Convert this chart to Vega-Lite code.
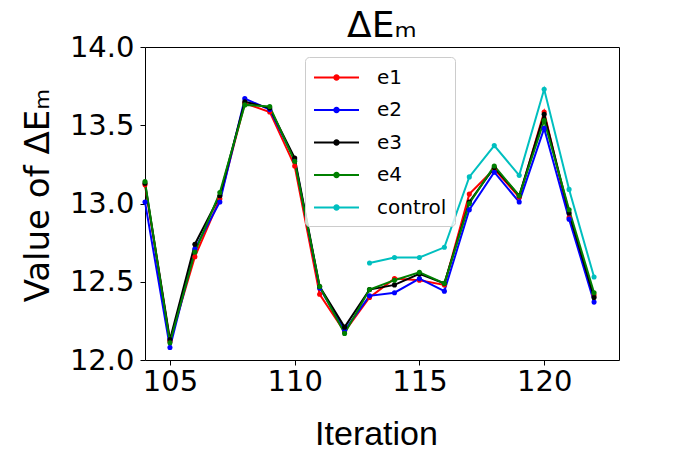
{
  "$schema": "https://vega.github.io/schema/vega-lite/v6.json",
  "width": 474,
  "height": 313,
  "autosize": "none",
  "padding": {"left": 145, "top": 47, "right": 59, "bottom": 93},
  "background": "white",
  "title": {"text": "ΔEₘ", "font": "DejaVu Sans", "fontSize": 36, "fontWeight": "normal", "color": "black", "offset": -12, "dx": 0},
  "data": {"values": [
    {"it": 104, "s": "e1", "v": 13.12}, {"it": 105, "s": "e1", "v": 12.12}, {"it": 106, "s": "e1", "v": 12.66}, {"it": 107, "s": "e1", "v": 13.03}, {"it": 108, "s": "e1", "v": 13.64}, {"it": 109, "s": "e1", "v": 13.585}, {"it": 110, "s": "e1", "v": 13.24}, {"it": 111, "s": "e1", "v": 12.42}, {"it": 112, "s": "e1", "v": 12.18}, {"it": 113, "s": "e1", "v": 12.40}, {"it": 114, "s": "e1", "v": 12.52}, {"it": 115, "s": "e1", "v": 12.51}, {"it": 116, "s": "e1", "v": 12.48}, {"it": 117, "s": "e1", "v": 13.06}, {"it": 118, "s": "e1", "v": 13.22}, {"it": 119, "s": "e1", "v": 13.04}, {"it": 120, "s": "e1", "v": 13.585}, {"it": 121, "s": "e1", "v": 12.91}, {"it": 122, "s": "e1", "v": 12.415},
    {"it": 104, "s": "e2", "v": 13.01}, {"it": 105, "s": "e2", "v": 12.08}, {"it": 106, "s": "e2", "v": 12.71}, {"it": 107, "s": "e2", "v": 13.01}, {"it": 108, "s": "e2", "v": 13.67}, {"it": 109, "s": "e2", "v": 13.60}, {"it": 110, "s": "e2", "v": 13.28}, {"it": 111, "s": "e2", "v": 12.46}, {"it": 112, "s": "e2", "v": 12.19}, {"it": 113, "s": "e2", "v": 12.41}, {"it": 114, "s": "e2", "v": 12.43}, {"it": 115, "s": "e2", "v": 12.52}, {"it": 116, "s": "e2", "v": 12.44}, {"it": 117, "s": "e2", "v": 12.96}, {"it": 118, "s": "e2", "v": 13.20}, {"it": 119, "s": "e2", "v": 13.01}, {"it": 120, "s": "e2", "v": 13.48}, {"it": 121, "s": "e2", "v": 12.90}, {"it": 122, "s": "e2", "v": 12.37},
    {"it": 104, "s": "e3", "v": 13.13}, {"it": 105, "s": "e3", "v": 12.13}, {"it": 106, "s": "e3", "v": 12.74}, {"it": 107, "s": "e3", "v": 13.05}, {"it": 108, "s": "e3", "v": 13.65}, {"it": 109, "s": "e3", "v": 13.61}, {"it": 110, "s": "e3", "v": 13.29}, {"it": 111, "s": "e3", "v": 12.47}, {"it": 112, "s": "e3", "v": 12.21}, {"it": 113, "s": "e3", "v": 12.45}, {"it": 114, "s": "e3", "v": 12.48}, {"it": 115, "s": "e3", "v": 12.55}, {"it": 116, "s": "e3", "v": 12.49}, {"it": 117, "s": "e3", "v": 13.01}, {"it": 118, "s": "e3", "v": 13.23}, {"it": 119, "s": "e3", "v": 13.05}, {"it": 120, "s": "e3", "v": 13.57}, {"it": 121, "s": "e3", "v": 12.94}, {"it": 122, "s": "e3", "v": 12.40},
    {"it": 104, "s": "e4", "v": 13.14}, {"it": 105, "s": "e4", "v": 12.11}, {"it": 106, "s": "e4", "v": 12.69}, {"it": 107, "s": "e4", "v": 13.07}, {"it": 108, "s": "e4", "v": 13.63}, {"it": 109, "s": "e4", "v": 13.62}, {"it": 110, "s": "e4", "v": 13.27}, {"it": 111, "s": "e4", "v": 12.47}, {"it": 112, "s": "e4", "v": 12.17}, {"it": 113, "s": "e4", "v": 12.45}, {"it": 114, "s": "e4", "v": 12.51}, {"it": 115, "s": "e4", "v": 12.56}, {"it": 116, "s": "e4", "v": 12.49}, {"it": 117, "s": "e4", "v": 13.00}, {"it": 118, "s": "e4", "v": 13.24}, {"it": 119, "s": "e4", "v": 13.05}, {"it": 120, "s": "e4", "v": 13.53}, {"it": 121, "s": "e4", "v": 12.96}, {"it": 122, "s": "e4", "v": 12.43},
    {"it": 113, "s": "control", "v": 12.62}, {"it": 114, "s": "control", "v": 12.655}, {"it": 115, "s": "control", "v": 12.655}, {"it": 116, "s": "control", "v": 12.72}, {"it": 117, "s": "control", "v": 13.17}, {"it": 118, "s": "control", "v": 13.37}, {"it": 119, "s": "control", "v": 13.18}, {"it": 120, "s": "control", "v": 13.73}, {"it": 121, "s": "control", "v": 13.09}, {"it": 122, "s": "control", "v": 12.53}
  ]},
  "mark": {"type": "line", "strokeWidth": 2, "point": {"filled": true, "size": 26, "opacity": 1}},
  "encoding": {
    "x": {"field": "it", "type": "quantitative",
      "scale": {"domain": [104, 123], "nice": false, "zero": false},
      "axis": {"values": [105, 110, 115, 120], "title": "Iteration", "titleFont": "Liberation Sans", "titleFontSize": 34, "titleFontWeight": "normal", "titleBaseline": "alphabetic", "titleX": 231, "titleY": 84, "labelPadding": 2}},
    "y": {"field": "v", "type": "quantitative",
      "scale": {"domain": [12, 14], "nice": false, "zero": false},
      "axis": {"values": [12, 12.5, 13, 13.5, 14], "format": ".1f", "title": "Value of ΔEₘ", "titleFont": "DejaVu Sans", "titleFontSize": 34, "titleFontWeight": "normal", "titleBaseline": "alphabetic", "titleAngle": -90, "titleX": -97, "titleY": 148, "titleAlign": "center", "labelPadding": 6}},
    "color": {"field": "s", "type": "nominal",
      "scale": {"domain": ["e1", "e2", "e3", "e4", "control"], "range": ["#ff0000", "#0000ff", "#000000", "#008000", "#00bfbf"]},
      "legend": {"title": null, "orient": "none", "legendX": 160, "legendY": 10,
        "padding": 8, "strokeColor": "#cccccc", "fillColor": "rgba(255,255,255,0.8)", "cornerRadius": 4,
        "symbolType": "M-2,0L2,0M0.2,0A0.2,0.2,0,1,1,-0.2,0A0.2,0.2,0,1,1,0.2,0",
        "symbolSize": 506, "symbolStrokeWidth": 2, "symbolOffset": 11, "labelOffset": 28, "rowPadding": 9.5,
        "labelFont": "DejaVu Sans", "labelFontSize": 20, "labelColor": "black",
        "encode": {"symbols": {"update": {"fill": {"scale": "color", "field": "value"}}}}}}
  },
  "config": {
    "view": {"stroke": "#000000", "strokeWidth": 1},
    "axis": {"domain": false, "grid": false, "ticks": true, "tickColor": "black", "tickSize": 5, "tickWidth": 1,
      "labelFont": "DejaVu Sans", "labelFontSize": 29, "labelColor": "black", "titleColor": "black"}
  }
}
